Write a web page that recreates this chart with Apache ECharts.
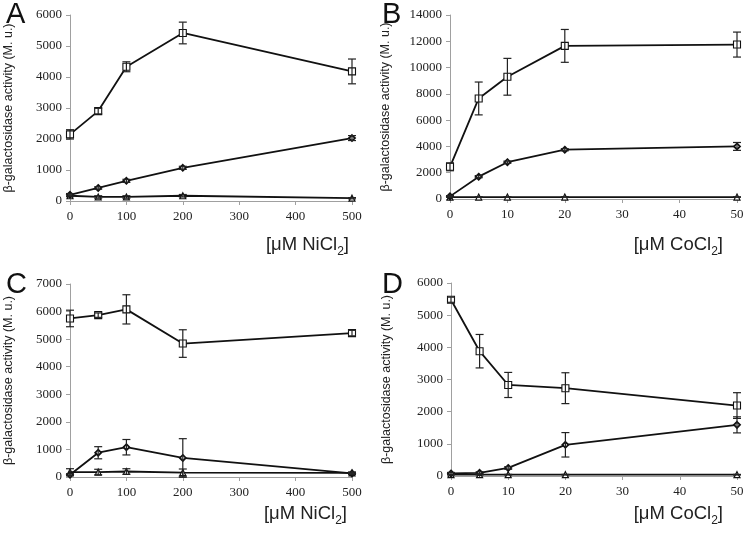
<!DOCTYPE html>
<html>
<head>
<meta charset="utf-8">
<script src="https://cdn.jsdelivr.net/npm/echarts@6/dist/echarts.min.js"></script>
<style>html,body{margin:0;padding:0;background:#fff}#c{width:750px;height:534px}</style>
</head>
<body>
<div id="c"></div>
<script>
// x values
const xNi = [0, 50, 100, 200, 500];
const xCo = [0, 5, 10, 20, 50];

// Panel A (NiCl2)
const aSquare = [2150, 2900, 4330, 5420, 4180];
const aSquareErr = [150, 90, 160, 350, 400];
const aDiamond = [200, 420, 650, 1070, 2030];
const aDiamondErr = [40, 40, 50, 50, 80];
const aTriangle = [170, 130, 130, 170, 90];
const aTriangleErr = [30, 40, 40, 40, 20];

// Panel B (CoCl2)
const bSquare = [2450, 7650, 9300, 11650, 11750];
const bSquareErr = [300, 1250, 1400, 1250, 950];
const bDiamond = [200, 1700, 2800, 3750, 4000];
const bDiamondErr = [60, 80, 80, 80, 300];
const bTriangle = [150, 150, 150, 150, 150];
const bTriangleErr = [20, 20, 20, 20, 20];

// Panel C (NiCl2)
const cSquare = [5750, 5870, 6080, 4840, 5220];
const cSquareErr = [300, 80, 530, 500, 100];
const cDiamond = [80, 880, 1080, 690, 130];
const cDiamondErr = [40, 220, 280, 700, 40];
const cTriangle = [180, 180, 200, 160, 150];
const cTriangleErr = [120, 100, 100, 130, 30];

// Panel D (CoCl2)
const dSquare = [5480, 3880, 2830, 2730, 2190];
const dSquareErr = [80, 520, 390, 480, 400];
const dDiamond = [80, 100, 250, 970, 1590];
const dDiamondErr = [30, 30, 40, 380, 250];
const dTriangle = [40, 40, 40, 40, 40];
const dTriangleErr = [10, 10, 10, 10, 10];

const panels = [
  {letter: 'A', xs: xNi, xmax: 500, xint: 100, ymax: 6000, yint: 1000, sq: aSquare, sqE: aSquareErr, di: aDiamond, diE: aDiamondErr, tr: aTriangle, trE: aTriangleErr, salt: 'NiCl'},
  {letter: 'B', xs: xCo, xmax: 50, xint: 10, ymax: 14000, yint: 2000, sq: bSquare, sqE: bSquareErr, di: bDiamond, diE: bDiamondErr, tr: bTriangle, trE: bTriangleErr, salt: 'CoCl'},
  {letter: 'C', xs: xNi, xmax: 500, xint: 100, ymax: 7000, yint: 1000, sq: cSquare, sqE: cSquareErr, di: cDiamond, diE: cDiamondErr, tr: cTriangle, trE: cTriangleErr, salt: 'NiCl'},
  {letter: 'D', xs: xCo, xmax: 50, xint: 10, ymax: 6000, yint: 1000, sq: dSquare, sqE: dSquareErr, di: dDiamond, diE: dDiamondErr, tr: dTriangle, trE: dTriangleErr, salt: 'CoCl'}
];

const grids = [
  {left: 70, top: 15, width: 282, height: 186},
  {left: 450, top: 15, width: 287, height: 184},
  {left: 70, top: 284, width: 282, height: 193},
  {left: 451, top: 283, width: 286, height: 193}
];
const letterPos = [{left: 1, top: -5}, {left: 377, top: -5}, {left: 1, top: 265}, {left: 377, top: 265}];
const xTitlePos = [{right: 396, top: 230}, {right: 22, top: 230}, {right: 398, top: 499}, {right: 22, top: 499}];

const axisGray = '#a0a0a0';
const serif = '"Liberation Serif", "Times New Roman", serif';
const sans = '"Liberation Sans", Arial, sans-serif';

const option = {
  animation: false,
  backgroundColor: '#fff',
  grid: grids,
  xAxis: [], yAxis: [], series: [], title: []
};

function errSeries(i, xs, ys, es) {
  return {
    type: 'custom', xAxisIndex: i, yAxisIndex: i, z: 4,
    data: xs.map((x, k) => [x, ys[k] - es[k], ys[k] + es[k]]),
    renderItem: function (params, api) {
      const lo = api.coord([api.value(0), api.value(1)]);
      const hi = api.coord([api.value(0), api.value(2)]);
      const w = 4;
      const st = {stroke: '#222', lineWidth: 1.2};
      return {type: 'group', children: [
        {type: 'line', shape: {x1: lo[0], y1: lo[1], x2: hi[0], y2: hi[1]}, style: st},
        {type: 'line', shape: {x1: lo[0] - w, y1: lo[1], x2: lo[0] + w, y2: lo[1]}, style: st},
        {type: 'line', shape: {x1: hi[0] - w, y1: hi[1], x2: hi[0] + w, y2: hi[1]}, style: st}
      ]};
    }
  };
}

function lineSeries(i, xs, ys, symbol, size, bw) {
  return {
    type: 'line', xAxisIndex: i, yAxisIndex: i, z: 3,
    data: xs.map((x, k) => [x, ys[k]]),
    symbol: symbol, symbolSize: size, showSymbol: true,
    lineStyle: {color: '#111', width: 1.8},
    itemStyle: {color: '#fff', borderColor: '#111', borderWidth: bw}
  };
}

panels.forEach((p, i) => {
  option.xAxis.push({
    type: 'value', gridIndex: i, min: 0, max: p.xmax, interval: p.xint,
    axisLine: {onZero: false, lineStyle: {color: axisGray, width: 1}},
    axisTick: {show: true, inside: false, length: 4, lineStyle: {color: axisGray}},
    axisLabel: {color: '#222', fontFamily: serif, fontSize: 13, margin: 9, formatter: v => String(v)},
    splitLine: {show: false}
  });
  option.yAxis.push({
    type: 'value', gridIndex: i, min: 0, max: p.ymax, interval: p.yint,
    name: 'β-galactosidase activity (M. u.)', nameLocation: 'middle', nameRotate: 90,
    nameGap: (i % 2 === 0) ? 55 : 58,
    nameTextStyle: {color: '#222', fontFamily: sans, fontSize: 12.5},
    axisLine: {show: true, lineStyle: {color: axisGray, width: 1}},
    axisTick: {show: true, inside: false, length: 4, lineStyle: {color: axisGray}},
    axisLabel: {color: '#222', fontFamily: serif, fontSize: 13, margin: 8, formatter: v => String(v)},
    splitLine: {show: false}
  });
  option.series.push(lineSeries(i, p.xs, p.tr, 'triangle', 6, 1.2));
  option.series.push(lineSeries(i, p.xs, p.di, 'diamond', 6, 1.8));
  option.series.push(lineSeries(i, p.xs, p.sq, 'rect', 7, 1.1));
  option.series.push(errSeries(i, p.xs, p.sq, p.sqE));
  option.series.push(errSeries(i, p.xs, p.di, p.diE));
  option.series.push(errSeries(i, p.xs, p.tr, p.trE));
  option.title.push(Object.assign({
    text: p.letter,
    textStyle: {fontFamily: sans, fontSize: 29, fontWeight: 'normal', color: '#111'}
  }, letterPos[i]));
  option.title.push(Object.assign({
    text: '{a|[μM ' + p.salt + '}{s|2}{a|]}',
    textStyle: {fontWeight: 'normal', rich: {
      a: {fontFamily: sans, fontSize: 18.5, fontWeight: 'normal', color: '#222', verticalAlign: 'bottom'},
      s: {fontFamily: sans, fontSize: 12, fontWeight: 'normal', color: '#222', verticalAlign: 'bottom', padding: [0, 0, -4, 0]}
    }}
  }, xTitlePos[i]));
});

const chart = echarts.init(document.getElementById('c'), null, {renderer: 'canvas'});
chart.setOption(option);
</script>
</body>
</html>
